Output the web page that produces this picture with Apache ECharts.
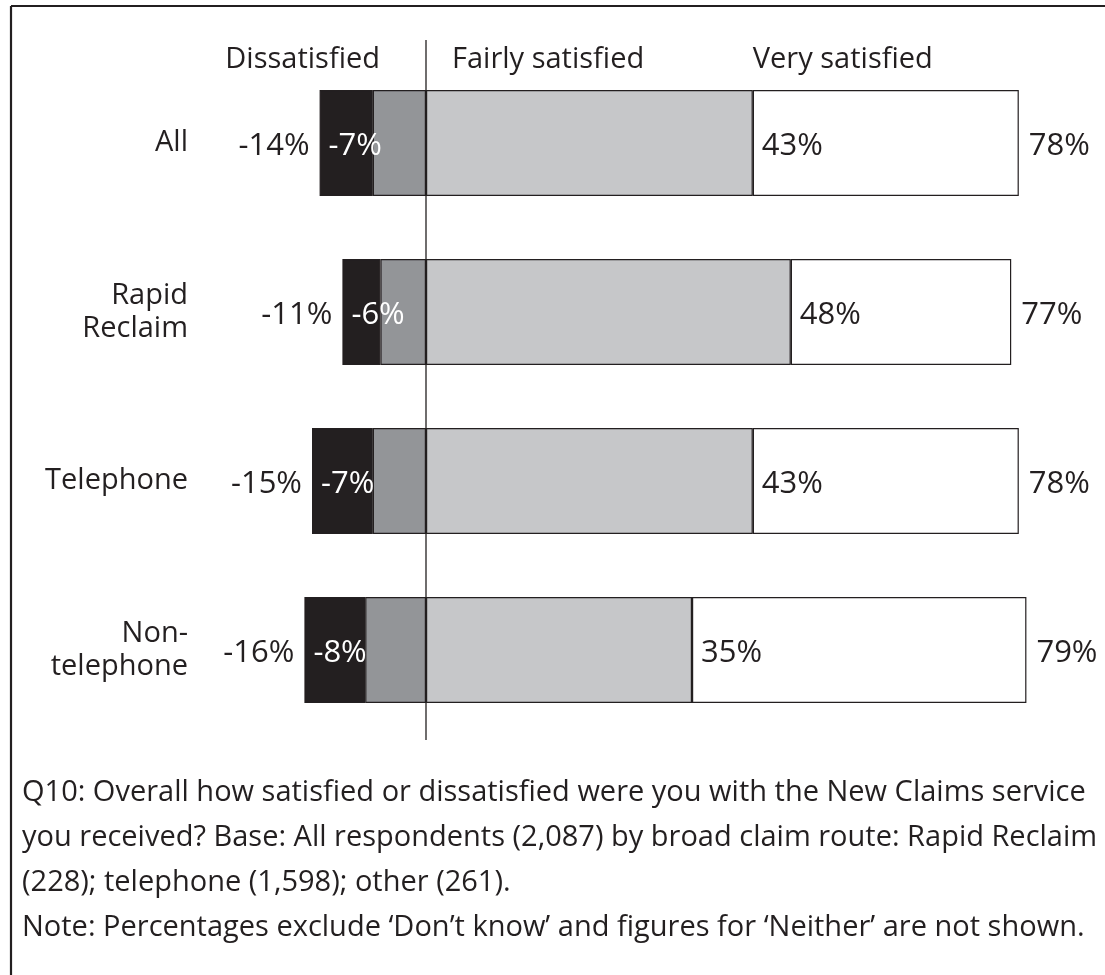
<!DOCTYPE html>
<html>
<head>
<meta charset="utf-8">
<script src="https://cdn.jsdelivr.net/npm/echarts@6/dist/echarts.min.js"></script>
<style>html,body{margin:0;padding:0;background:#fff}#c{width:1105px;height:975px}</style>
</head>
<body>
<div id="c"></div>
<script>
const categories = ['All', 'Rapid\nReclaim', 'Telephone', 'Non-\ntelephone'];
const veryDissatisfied = [7, 5, 8, 8];
const fairlyDissatisfied = [7, 6, 7, 8];
const fairlySatisfied = [43, 48, 43, 35];
const verySatisfied = [35, 29, 35, 44];
const totalDissatisfied = [-14, -11, -15, -16];
const totalSatisfied = [78, 77, 78, 79];
const headers = ['Dissatisfied', 'Fairly satisfied', 'Very satisfied'];
const noteLines = [
  'Q10: Overall how satisfied or dissatisfied were you with the New Claims service',
  'you received? Base: All respondents (2,087) by broad claim route: Rapid Reclaim',
  '(228); telephone (1,598); other (261).',
  'Note: Percentages exclude \u2018Don\u2019t know\u2019 and figures for \u2018Neither\u2019 are not shown.'
];

const FONT = '"Open Sans", "Noto Sans", sans-serif';
const INK = '#231f20';
const FS = 29;
const FSN = 31;

const chart = echarts.init(document.getElementById('c'));
const barBase = {
  type: 'bar', stack: 'a', barWidth: 106, barGap: '-100%',
  itemStyle: { borderColor: INK, borderWidth: 1.2 },
  emphasis: { disabled: true }, animation: false
};
const lbl = { fontFamily: FONT, fontSize: FSN, color: INK };

chart.setOption({
  animation: false,
  grid: { left: 198, right: 71, top: 58.5, bottom: 240.5, containLabel: false },
  xAxis: {
    type: 'value', min: -30, max: 80,
    show: false
  },
  yAxis: {
    type: 'category', data: categories, inverse: true,
    axisLine: { show: false }, axisTick: { show: false },
    axisLabel: { margin: 10, fontFamily: FONT, fontSize: FS, color: INK, lineHeight: 33, align: 'right', padding: [8, 0, 0, 0] }
  },
  series: [
    Object.assign({}, barBase, {
      name: 'Fairly dissatisfied', data: fairlyDissatisfied.map(v => -v),
      itemStyle: Object.assign({}, barBase.itemStyle, { color: '#939598' })
    }),
    Object.assign({}, barBase, {
      name: 'Very dissatisfied', data: veryDissatisfied.map(v => -v),
      itemStyle: Object.assign({}, barBase.itemStyle, { color: INK }),
      label: Object.assign({}, lbl, {
        show: true, position: 'insideLeft', distance: 9, color: '#ffffff', offset: [0, 3],
        formatter: p => '-' + fairlyDissatisfied[p.dataIndex] + '%'
      })
    }),
    Object.assign({}, barBase, {
      name: 'Fairly satisfied', data: fairlySatisfied,
      itemStyle: Object.assign({}, barBase.itemStyle, { color: '#c6c7c9' })
    }),
    Object.assign({}, barBase, {
      name: 'Very satisfied', data: verySatisfied,
      itemStyle: Object.assign({}, barBase.itemStyle, { color: '#ffffff' }),
      label: Object.assign({}, lbl, {
        show: true, position: 'insideLeft', distance: 9, offset: [0, 3],
        formatter: p => fairlySatisfied[p.dataIndex] + '%'
      })
    }),
    {
      type: 'bar', name: 'Total dissatisfied', data: totalDissatisfied, barWidth: 106, barGap: '-100%',
      itemStyle: { color: 'rgba(0,0,0,0)' }, emphasis: { disabled: true }, silent: true,
      label: Object.assign({}, lbl, { show: true, position: 'left', distance: 10, offset: [0, 3], formatter: p => p.value + '%' })
    },
    {
      type: 'bar', name: 'Total satisfied', data: totalSatisfied, barWidth: 106, barGap: '-100%',
      itemStyle: { color: 'rgba(0,0,0,0)' }, emphasis: { disabled: true }, silent: true,
      label: Object.assign({}, lbl, { show: true, position: 'right', distance: 10, offset: [0, 3], formatter: p => p.value + '%' })
    }
  ]
});

const x0 = chart.convertToPixel({ xAxisIndex: 0 }, 0);
const xVS = chart.convertToPixel({ xAxisIndex: 0 }, fairlySatisfied[0]);
chart.setOption({
  graphic: [
    { type: 'line', z: 100, shape: { x1: 11, y1: 6, x2: 1105, y2: 6 }, style: { stroke: INK, lineWidth: 2.2 } },
    { type: 'line', z: 100, shape: { x1: 11, y1: 6, x2: 11, y2: 975 }, style: { stroke: INK, lineWidth: 2.2 } },
    { type: 'line', z: 100, shape: { x1: x0, y1: 40, x2: x0, y2: 740 }, style: { stroke: INK, lineWidth: 1.3 } },
    { type: 'text', z: 100, x: x0 - 46, y: 60, style: { text: headers[0], font: FS + 'px ' + FONT, fill: INK, align: 'right', verticalAlign: 'middle' } },
    { type: 'text', z: 100, x: x0 + 26, y: 60, style: { text: headers[1], font: FS + 'px ' + FONT, fill: INK, align: 'left', verticalAlign: 'middle' } },
    { type: 'text', z: 100, x: xVS, y: 60, style: { text: headers[2], font: FS + 'px ' + FONT, fill: INK, align: 'left', verticalAlign: 'middle' } },
    { type: 'text', z: 100, x: 22, y: 770, style: { text: noteLines.join('\n'), font: FS + 'px ' + FONT, fill: INK, lineHeight: 45, align: 'left', verticalAlign: 'top' } }
  ]
});
</script>
</body>
</html>
